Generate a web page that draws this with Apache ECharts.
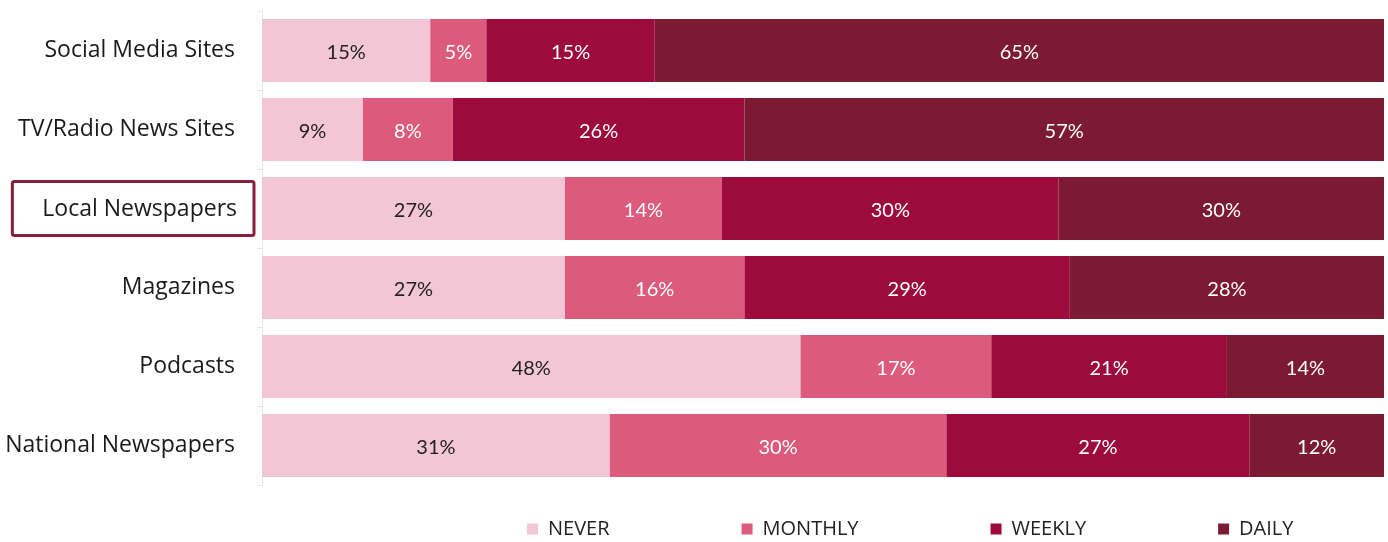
<!DOCTYPE html>
<html>
<head>
<meta charset="utf-8">
<script src="https://cdn.jsdelivr.net/npm/echarts@6/dist/echarts.min.js"></script>
<style>
  html, body { margin: 0; padding: 0; background: #ffffff; }
  #chart { width: 1388px; height: 542px; }
</style>
</head>
<body>
<div id="chart"></div>
<script>
// Media types, listed top to bottom
const categories = ['Social Media Sites', 'TV/Radio News Sites', 'Local Newspapers', 'Magazines', 'Podcasts', 'National Newspapers'];
const highlighted = 'Local Newspapers';

// Share of respondents (%) by frequency of use
const neverValues   = [15, 9, 27, 27, 48, 31];
const monthlyValues = [5, 8, 14, 16, 17, 30];
const weeklyValues  = [15, 26, 30, 29, 21, 27];
const dailyValues   = [65, 57, 30, 28, 14, 12];

const seriesNames = ['NEVER', 'MONTHLY', 'WEEKLY', 'DAILY'];
const seriesColors = ['#f3c6d6', '#dc5a7c', '#9c0b3b', '#7d1a33'];
const labelColors = ['#222222', '#ffffff', '#ffffff', '#ffffff'];

const chart = echarts.init(document.getElementById('chart'), null, { renderer: 'canvas' });

const makeSeries = (name, values, i) => ({
  name: name,
  type: 'bar',
  stack: 'total',
  data: values,
  clip: true,
  barCategoryGap: '20%',
  itemStyle: { color: seriesColors[i] },
  label: {
    show: true,
    position: 'inside',
    formatter: p => p.value + '%',
    color: labelColors[i],
    fontFamily: 'Lato',
    fontSize: 20,
    offset: [0, 2]
  },
  emphasis: { disabled: true }
});

chart.setOption({
  animation: false,
  grid: { left: 262, right: 4, top: 11, bottom: 57, containLabel: false },
  legend: {
    data: seriesNames,
    left: 522,
    bottom: -2,
    itemWidth: 11,
    itemHeight: 11,
    itemGap: 132,
    icon: 'rect',
    selectedMode: false,
    textStyle: { fontFamily: '"Liberation Sans Narrow", "Open Sans"', fontSize: 20, color: '#222222', padding: [0, 0, 0, 5] }
  },
  xAxis: {
    type: 'value',
    min: 0,
    max: 100,
    show: false
  },
  yAxis: {
    type: 'category',
    data: categories,
    inverse: true,
    axisLine: { show: true, lineStyle: { color: '#e6e6e6', width: 1 } },
    axisTick: { show: true, length: 5, lineStyle: { color: '#e6e6e6' } },
    axisLabel: {
      margin: 8,
      formatter: v => v === highlighted ? '{hl|' + v + '}' : '{n|' + v + '}',
      rich: {
        n: {
          fontFamily: 'Open Sans',
          fontSize: 23,
          color: '#1a1a1a',
          padding: [0, 19, 0, 0]
        },
        hl: {
          fontFamily: 'Open Sans',
          fontSize: 23,
          color: '#1a1a1a',
          borderColor: '#8a1f3c',
          borderWidth: 3,
          borderRadius: 2,
          padding: [16, 17, 15, 30]
        }
      }
    }
  },
  series: [
    makeSeries(seriesNames[0], neverValues, 0),
    makeSeries(seriesNames[1], monthlyValues, 1),
    makeSeries(seriesNames[2], weeklyValues, 2),
    makeSeries(seriesNames[3], dailyValues, 3)
  ]
});
</script>
</body>
</html>
